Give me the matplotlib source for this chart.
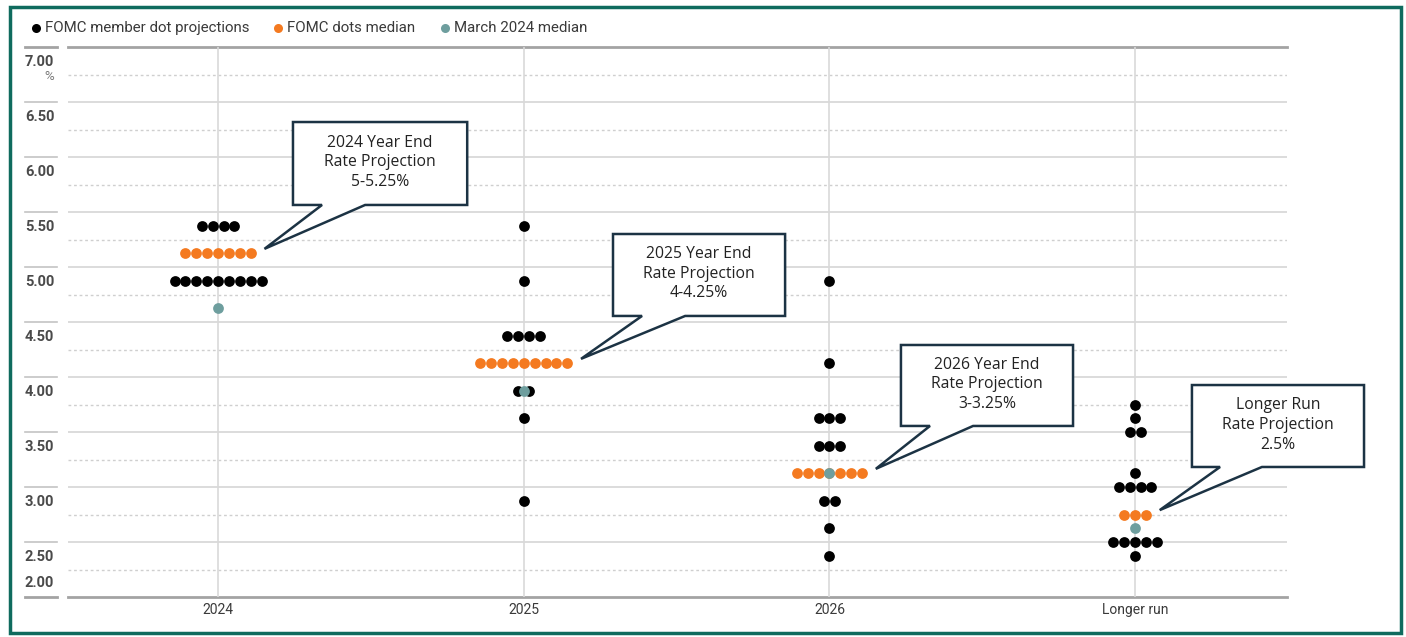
import matplotlib
matplotlib.use("Agg")
import matplotlib.pyplot as plt
from matplotlib.lines import Line2D
from matplotlib.patches import Polygon, Rectangle
import matplotlib.transforms as mtransforms

# ---------------- data ----------------
categories = ["2024", "2025", "2026", "Longer run"]

member_rates_2024 = [5.375, 4.875]
member_counts_2024 = [4, 9]
member_rates_2025 = [5.375, 4.875, 4.375, 3.875, 3.625, 2.875]
member_counts_2025 = [1, 1, 4, 2, 1, 1]
member_rates_2026 = [4.875, 4.125, 3.625, 3.375, 2.875, 2.625, 2.375]
member_counts_2026 = [1, 1, 3, 3, 2, 1, 1]
member_rates_lr = [3.75, 3.625, 3.5, 3.125, 3.0, 2.5, 2.375]
member_counts_lr = [1, 1, 2, 1, 4, 5, 1]

median_rates = [5.125, 4.125, 3.125, 2.75]
median_counts = [7, 9, 7, 3]
march_median = [4.625, 3.875, 3.125, 2.625]

ytick_values = [2.0, 2.5, 3.0, 3.5, 4.0, 4.5, 5.0, 5.5, 6.0, 6.5, 7.0]
ytick_labels = ["2.00", "2.50", "3.00", "3.50", "4.00", "4.50", "5.00",
                "5.50", "6.00", "6.50", "7.00"]
minor_values = [2.25, 2.75, 3.25, 3.75, 4.25, 4.75, 5.25, 5.75, 6.25, 6.75]

legend_labels = ["FOMC member dot projections", "FOMC dots median", "March 2024 median"]
callout_texts = ["2024 Year End\nRate Projection\n5-5.25%",
                 "2025 Year End\nRate Projection\n4-4.25%",
                 "2026 Year End\nRate Projection\n3-3.25%",
                 "Longer Run\nRate Projection\n2.5%"]

# ---------------- style ----------------
W, H = 1406, 637
C_BLACK = "#000000"
C_ORANGE = "#f47a20"
C_TEAL = "#6e9e9e"
C_GRID = "#d6d6d6"
C_DOT = "#cfcfcf"
C_AXIS = "#a3a3a3"
C_TEXT = "#3a3a3a"
C_BOX = "#1c3344"
COND = ["Roboto", "DejaVu Sans"]
BOXFONT = ["Open Sans", "DejaVu Sans"]

fig = plt.figure(figsize=(W / 100, H / 100), dpi=100)
ax = fig.add_axes([68 / W, 1 - 597 / H, (1287 - 68) / W, (597 - 47) / H])
ax.set_xlim(-0.491, 3.497)
ax.set_ylim(2.0, 7.0)
for s in ax.spines.values():
    s.set_visible(False)
ax.set_yticks([])
ax.set_xticks(range(len(categories)))
ax.set_xticklabels(categories, family=COND, fontsize=10, color=C_TEXT)
ax.tick_params(axis="x", length=0, pad=4)

# gridlines
for v in ytick_values:
    if v in (2.0, 7.0):
        ax.axhline(v, color=C_AXIS, lw=2.0, zorder=1, clip_on=False)
    else:
        ax.axhline(v, color=C_GRID, lw=1.2, zorder=1)
for v in minor_values:
    ax.axhline(v, color=C_DOT, lw=1.0, ls=(0, (2, 2)), zorder=1)
for i in range(len(categories)):
    ax.axvline(i, color="#d9d9d9", lw=1.2, zorder=1)

# y labels & small left segments
bt = mtransforms.blended_transform_factory(ax.transAxes, ax.transData)
for v, lab in zip(ytick_values, ytick_labels):
    col = C_AXIS if v in (2.0, 7.0) else "#c4c4c4"
    lw = 2.0 if v in (2.0, 7.0) else 1.2
    ax.plot([-0.0353, -0.0090], [v, v], transform=bt, color=col, lw=lw, clip_on=False)
    yl = v - 0.135 if v > 2.0 else v + 0.125
    ax.text(-0.0353, yl, lab, transform=bt, ha="left", va="center",
            family=COND, fontsize=10.5, fontweight="bold", color="#4a4a4a")
ax.text(-0.019, 7.0 - 0.27, "%", transform=bt, ha="left", va="center",
        family=COND, fontsize=9.5, color="#777777")

# dots
sp = 0.0356
msize = 60


def row_x(center, n):
    return [center + (k - (n - 1) / 2) * sp for k in range(n)]


member_sets = [(member_rates_2024, member_counts_2024),
               (member_rates_2025, member_counts_2025),
               (member_rates_2026, member_counts_2026),
               (member_rates_lr, member_counts_lr)]
for i, (rates, counts) in enumerate(member_sets):
    for r, c in zip(rates, counts):
        xs = row_x(i, c)
        ax.scatter(xs, [r] * c, s=msize, color=C_BLACK, lw=0, zorder=3)
for i, (r, c) in enumerate(zip(median_rates, median_counts)):
    xs = row_x(i, c)
    ax.scatter(xs, [r] * c, s=msize, color=C_ORANGE, lw=0, zorder=4)
for i, r in enumerate(march_median):
    ax.scatter([i], [r], s=msize, color=C_TEAL, lw=0, zorder=5)

# callouts (box in data units: left, right, bottom, top, wedge base left/right)
boxes = [(0.245, 0.815, 5.564, 6.318, 0.340, 0.481),
         (1.292, 1.855, 4.555, 5.300, 1.387, 1.528),
         (2.234, 2.797, 3.555, 4.291, 2.329, 2.470),
         (3.186, 3.749, 3.182, 3.927, 3.278, 3.415)]
for i, (b, txt) in enumerate(zip(boxes, callout_texts)):
    l, r, bo, t, w1, w2 = b
    tipx = i + (median_counts[i] - 1) / 2 * sp + 0.045
    tipy = median_rates[i] + 0.04
    poly = Polygon([(l, t), (r, t), (r, bo), (w2, bo), (tipx, tipy), (w1, bo), (l, bo)],
                   closed=True, facecolor="white", edgecolor=C_BOX, lw=1.8,
                   zorder=6, joinstyle="miter", clip_on=False)
    ax.add_patch(poly)
    ax.text((l + r) / 2, (bo + t) / 2 + 0.01, txt, ha="center", va="center",
            family=BOXFONT, fontsize=11.3, color="#222222", linespacing=1.3,
            zorder=7, clip_on=False)

# legend (manual)
leg_x = [36, 278, 445]
leg_cols = [C_BLACK, C_ORANGE, C_TEAL]
for x, c, lab in zip(leg_x, leg_cols, legend_labels):
    fig.lines.append(Line2D([x / W], [1 - 28 / H], marker="o", ms=6.5, color=c,
                            mew=0, transform=fig.transFigure))
    fig.text((x + 9) / W, 1 - 28 / H, lab, ha="left", va="center",
             family=COND, fontsize=10.8, color=C_TEXT)

# frame
fig.patches.append(Rectangle((10 / W, 1 - 633 / H), (1401 - 10) / W, (633 - 7) / H,
                             transform=fig.transFigure, fill=False,
                             edgecolor="#0f6b5e", lw=2.5))

fig.savefig("out.png", dpi=100)
